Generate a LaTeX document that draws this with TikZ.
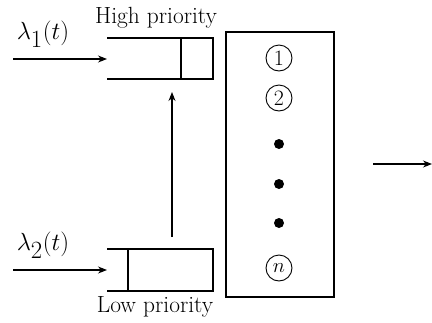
\documentclass[tikz,border=0pt]{standalone}
\usetikzlibrary{arrows.meta}
\begin{document}
\begin{tikzpicture}[x=1bp,y=-1bp,
  txt/.style={font=\fontsize{23.5}{28}\selectfont, inner sep=0pt},
  mth/.style={font=\fontsize{35}{40}\selectfont, inner sep=0pt},
  qline/.style={line width=2.4bp},
  arr/.style={line width=1.1bp, -{Stealth[length=9bp,width=7bp]}},
  num/.style={circle, draw, line width=0.9bp, minimum size=26bp, inner sep=0pt, font=\fontsize{22}{26}\selectfont},
  bdot/.style={circle, fill, minimum size=10bp, inner sep=0pt}]
\useasboundingbox (0,0) rectangle (432,323);
% high priority queue
\draw[qline] (107,38) -- (213,38) -- (213,79) -- (107,79);
\draw[line width=1.1bp] (181,38) -- (181,79);
% low priority queue
\draw[qline] (107,249) -- (213,249) -- (213,291) -- (107,291);
\draw[line width=1.1bp] (128,249) -- (128,291);
% labels
\node[mth] (l1) at (43,34) {$\lambda_1(t)$};
\node[mth] (l2) at (43,245) {$\lambda_2(t)$};
\node[txt] (hp) at (156,18) {High priority};
\node[txt] (lp) at (155,307) {Low priority};
% inputs
\coordinate (in1) at (13,59);
\coordinate (q1) at (107,59);
\coordinate (in2) at (13,270);
\coordinate (q2) at (107,270);
\draw[arr] (in1) -- (q1);
\draw[arr] (in2) -- (q2);
% vertical arrow
\coordinate (vb) at (172,237);
\coordinate (vt) at (172,92);
\draw[arr] (vb) -- (vt);
% server box
\node[draw, line width=1.8bp, minimum width=108bp, minimum height=265bp, inner sep=0pt] (srv) at (280,164.5) {};
\node[num] (s1) at (279,58) {1};
\node[num] (s2) at (279,98) {2};
\node[bdot] (d1) at (279,144) {};
\node[bdot] (d2) at (279,184) {};
\node[bdot] (d3) at (279,223) {};
\node[num] (sn) at (279,268) {$n$};
% output
\coordinate (o1) at (373,164);
\coordinate (o2) at (432,164);
\draw[arr] (o1) -- (o2);
\end{tikzpicture}
\end{document}
